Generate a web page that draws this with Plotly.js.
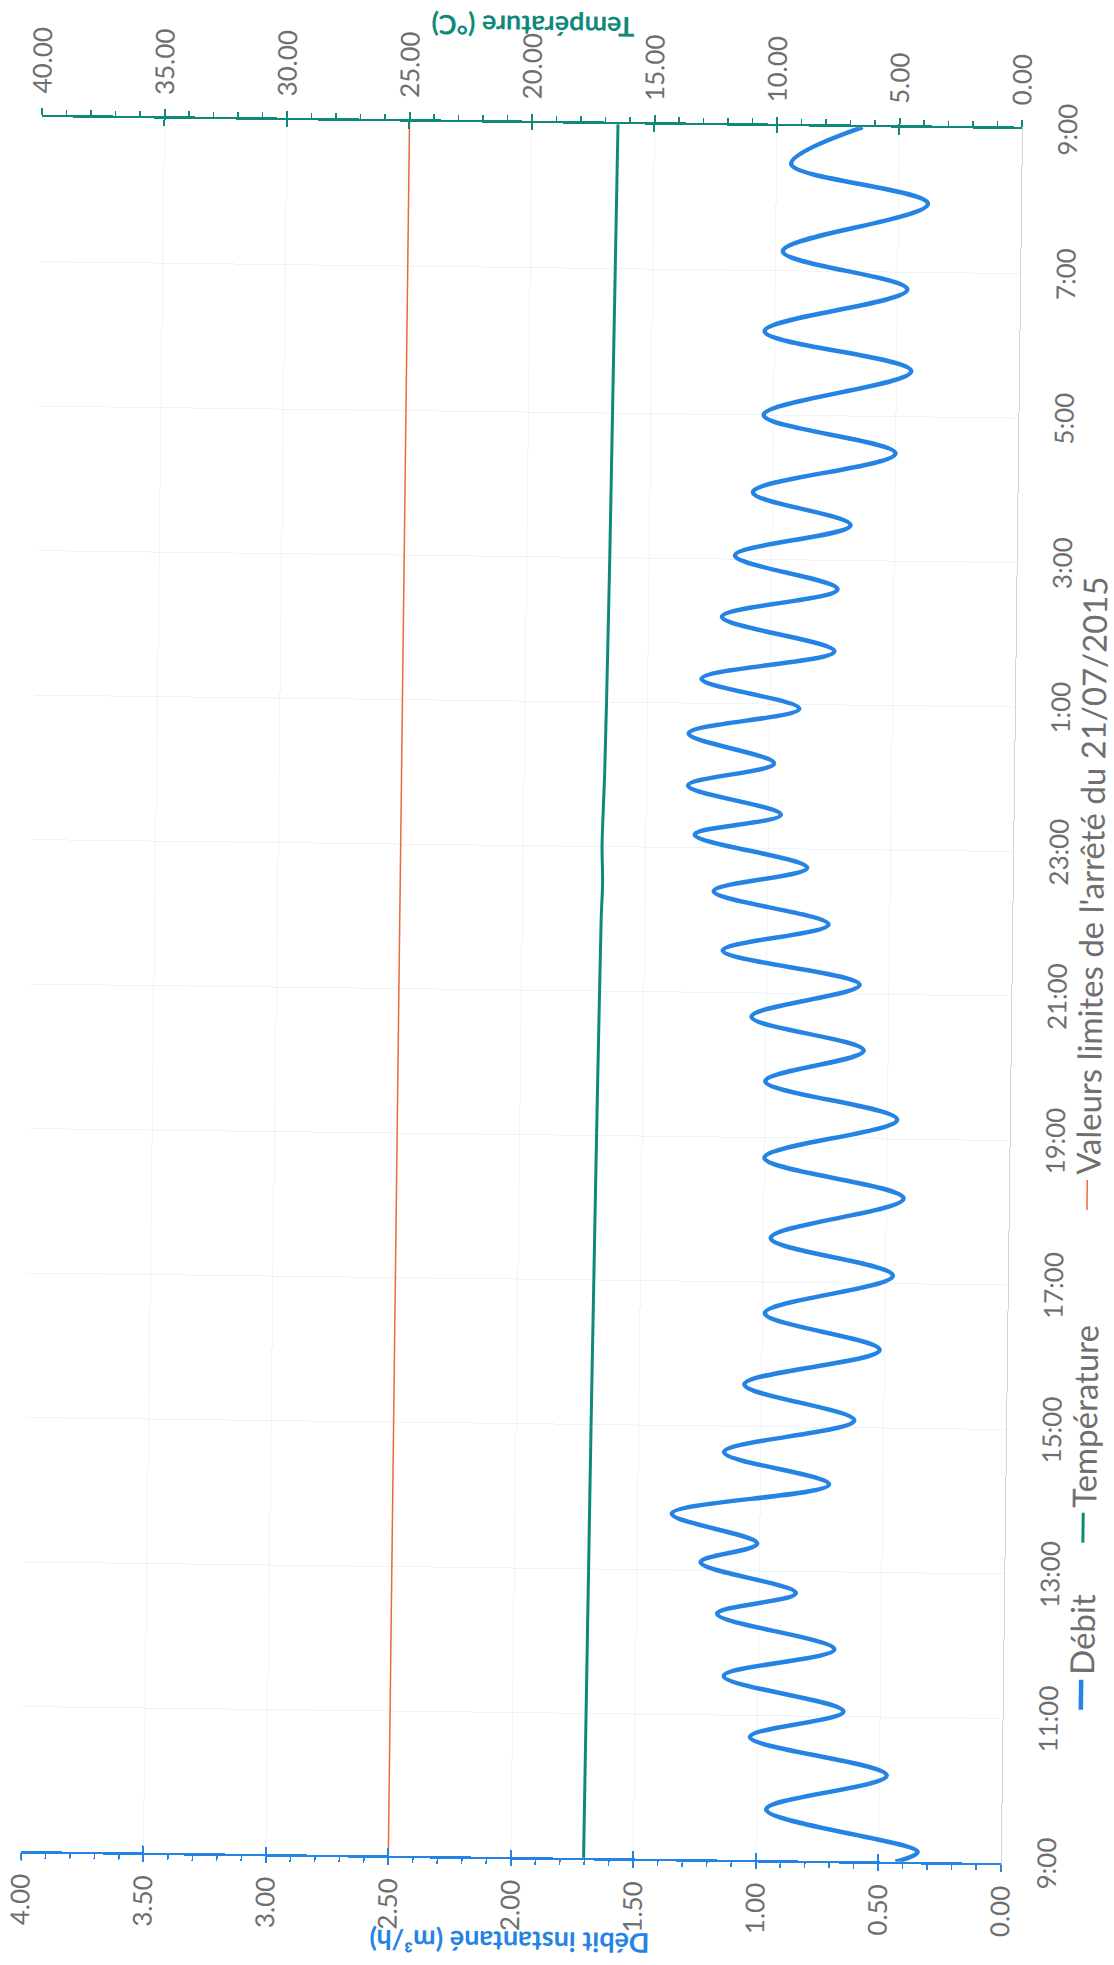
<!DOCTYPE html>
<html>
<head>
<meta charset="utf-8">
<script src="https://cdn.plot.ly/plotly-3.0.1.min.js"></script>
<style>
  html, body { margin: 0; padding: 0; background: #ffffff; width: 1114px; height: 1965px; overflow: hidden; }
  /* The printed sheet lies on its side: the chart is laid out landscape, then turned. */
  #chart { position: absolute; width: 1965px; height: 1114px; left: -425.5px; top: 425.5px;
           transform: rotate(-89.3deg); transform-origin: 50% 50%; }
</style>
</head>
<body>
<div id="chart"></div>
<script>
// Time axis: hours elapsed since 9:00
const hourTicks  = [0, 2, 4, 6, 8, 10, 12, 14, 16, 18, 20, 22, 24];
const hourLabels = ['9:00', '11:00', '13:00', '15:00', '17:00', '19:00', '21:00', '23:00', '1:00', '3:00', '5:00', '7:00', '9:00'];

// Débit instantané (m³/h): successive turning points of the flow curve
const debitHours  = [0, 0.14, 0.70, 1.19, 1.70, 2.07, 2.54, 2.93, 3.40, 3.70, 4.11, 4.38, 4.78, 5.21, 5.64, 6.10,
                     6.58, 7.08, 7.57, 8.11, 8.61, 9.18, 9.72, 10.27, 10.78, 11.22, 11.67, 12.13, 12.58, 12.96,
                     13.40, 13.74, 14.18, 14.47, 14.86, 15.18, 15.58, 15.94, 16.34, 16.74, 17.20, 17.60, 18.05,
                     18.49, 18.93, 19.49, 20.00, 20.63, 21.16, 21.76, 22.27, 22.95, 23.48, 24];
const debitValues = [0.43, 0.34, 0.96, 0.47, 1.03, 0.65, 1.14, 0.69, 1.17, 0.85, 1.24, 1.01, 1.36, 0.72, 1.15, 0.62,
                     1.07, 0.52, 0.99, 0.47, 0.97, 0.43, 1.00, 0.46, 1.00, 0.60, 1.06, 0.62, 1.18, 0.75,
                     1.22, 0.84, 1.30, 0.95, 1.33, 0.98, 1.33, 0.88, 1.28, 0.74, 1.20, 0.73, 1.15,
                     0.68, 1.08, 0.50, 1.04, 0.44, 1.04, 0.46, 0.97, 0.38, 0.94, 0.65];

// Température (°C)
const tempHours  = [0, 2, 4, 6, 8, 10, 12, 13, 13.5, 14, 14.5, 15, 16, 18, 20, 22, 24];
const tempValues = [17.03, 17.00, 16.97, 16.94, 16.90, 16.86, 16.81, 16.78, 16.74, 16.78, 16.75, 16.71, 16.67, 16.61, 16.57, 16.53, 16.49];

// Valeur limite de température (arrêté du 21/07/2015)
const limitHours  = [0, 24];
const limitValues = [25, 25];

const debitTicks  = [0, 0.5, 1, 1.5, 2, 2.5, 3, 3.5, 4];
const debitLabels = ['0.00', '0.50', '1.00', '1.50', '2.00', '2.50', '3.00', '3.50', '4.00'];
const tempTicks   = [0, 5, 10, 15, 20, 25, 30, 35, 40];
const tempLabels  = ['0.00', '5.00', '10.00', '15.00', '20.00', '25.00', '30.00', '35.00', '40.00'];

const debitTitle = 'Débit instantané (m³/h)';
const tempTitle  = 'Température (°C)';

const BLUE = '#2583e3';
const TEAL = '#10897b';
const RED  = '#ea6a3c';
const GRID = 'rgba(180,196,212,0.18)';
const LABEL = '#6f6f6f';
const FONT = 'Lato, "Open Sans", sans-serif';
const TICK_SIZE = 26;

const traces = [
  { x: debitHours, y: debitValues, type: 'scatter', mode: 'lines', name: 'Débit',
    line: { color: BLUE, width: 4.5, shape: 'spline', smoothing: 1 }, legend: 'legend' },
  { x: tempHours, y: tempValues, type: 'scatter', mode: 'lines', name: 'Température', yaxis: 'y2',
    line: { color: TEAL, width: 3, shape: 'spline', smoothing: 1 }, legend: 'legend2' },
  { x: limitHours, y: limitValues, type: 'scatter', mode: 'lines', name: "Valeurs limites de l'arrêté du 21/07/2015",
    yaxis: 'y2', line: { color: RED, width: 1.5 }, legend: 'legend3' },
  // carriers for the inner half of the major ticks
  { x: [], y: [], type: 'scatter', mode: 'lines', yaxis: 'y3', showlegend: false, hoverinfo: 'skip' },
  { x: [], y: [], type: 'scatter', mode: 'lines', yaxis: 'y4', showlegend: false, hoverinfo: 'skip' }
];

const legendCommon = { orientation: 'h', xanchor: 'left', yanchor: 'middle', y: -0.0798,
  bgcolor: 'rgba(0,0,0,0)', borderwidth: 0, font: { family: FONT, size: 33, color: LABEL } };

const layout = {
  width: 1965, height: 1114,
  margin: { l: 108, r: 123, t: 31, b: 103, pad: 0, autoexpand: false },
  paper_bgcolor: '#ffffff', plot_bgcolor: '#ffffff',
  font: { family: FONT, size: TICK_SIZE, color: LABEL },
  showlegend: true,
  legend:  Object.assign({}, legendCommon, { x: 0.086 }),
  legend2: Object.assign({}, legendCommon, { x: 0.1823 }),
  legend3: Object.assign({}, legendCommon, { x: 0.3743 }),
  xaxis: {
    range: [0, 24], tickmode: 'array', tickvals: hourTicks, ticktext: hourLabels,
    showline: true, linecolor: '#d3d7db', linewidth: 1, mirror: false,
    showgrid: true, gridcolor: GRID, gridwidth: 1, zeroline: false,
    ticks: '', ticklabelstandoff: 23, automargin: false,
    tickfont: { family: FONT, size: TICK_SIZE, color: LABEL }
  },
  yaxis: {
    range: [0, 4], tickmode: 'array', tickvals: debitTicks, ticktext: debitLabels,
    showline: true, linecolor: BLUE, linewidth: 2.5, zeroline: false,
    showgrid: true, gridcolor: GRID, gridwidth: 1,
    ticks: 'outside', ticklen: 7, tickwidth: 2, tickcolor: BLUE, ticklabelstandoff: 8,
    minor: { tickmode: 'linear', tick0: 0, dtick: 0.1, ticks: 'outside', ticklen: 5, tickwidth: 1.5, tickcolor: BLUE, showgrid: false },
    tickfont: { family: FONT, size: TICK_SIZE, color: LABEL }, automargin: false
  },
  yaxis2: {
    range: [0, 40], overlaying: 'y', side: 'right', anchor: 'x',
    tickmode: 'array', tickvals: tempTicks, ticktext: tempLabels,
    showline: true, linecolor: TEAL, linewidth: 2.5, zeroline: false, showgrid: false,
    ticks: 'outside', ticklen: 7, tickwidth: 2, tickcolor: TEAL, ticklabelstandoff: 9,
    minor: { tickmode: 'linear', tick0: 0, dtick: 1, ticks: 'outside', ticklen: 5, tickwidth: 1.5, tickcolor: TEAL, showgrid: false },
    tickfont: { family: FONT, size: TICK_SIZE, color: LABEL }, automargin: false
  },
  yaxis3: {
    range: [0, 4], overlaying: 'y', side: 'left', anchor: 'x',
    tickmode: 'array', tickvals: debitTicks, showticklabels: false,
    ticks: 'inside', ticklen: 7, tickwidth: 2, tickcolor: BLUE,
    showline: false, showgrid: false, zeroline: false
  },
  yaxis4: {
    range: [0, 40], overlaying: 'y', side: 'right', anchor: 'x',
    tickmode: 'array', tickvals: tempTicks, showticklabels: false,
    ticks: 'inside', ticklen: 7, tickwidth: 2, tickcolor: TEAL,
    showline: false, showgrid: false, zeroline: false
  },
  // axis titles, set just beyond the tick labels
  annotations: [
    { text: debitTitle, xref: 'paper', yref: 'paper', x: -0.0493, y: 0.5, textangle: -90,
      xanchor: 'center', yanchor: 'middle', showarrow: false,
      font: { family: FONT, size: 27, color: BLUE, weight: 700 } },
    { text: tempTitle, xref: 'paper', yref: 'paper', x: 1.0555, y: 0.5, textangle: -90,
      xanchor: 'center', yanchor: 'middle', showarrow: false,
      font: { family: FONT, size: 27, color: TEAL, weight: 700 } }
  ]
};

Plotly.newPlot('chart', traces, layout, { staticPlot: true, displayModeBar: false });
</script>
</body>
</html>
